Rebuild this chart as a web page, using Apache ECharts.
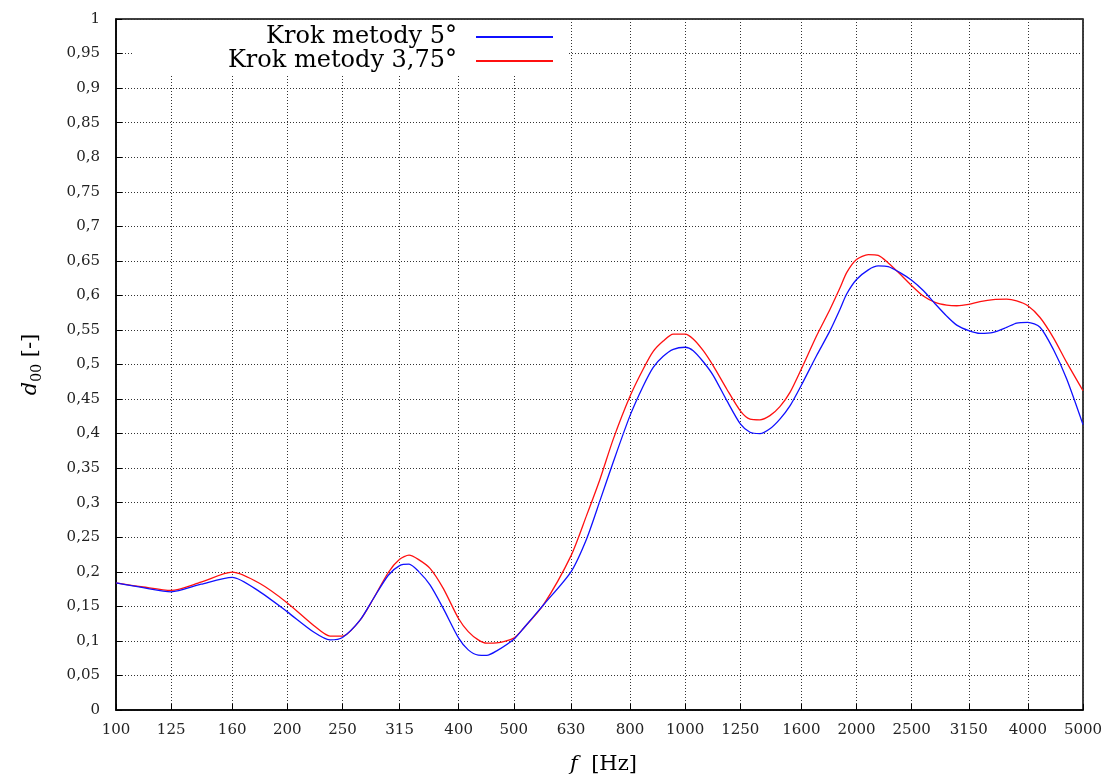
<!DOCTYPE html>
<html>
<head>
<meta charset="utf-8">
<script src="https://cdn.jsdelivr.net/npm/echarts@6/dist/echarts.min.js"></script>
<style>
html,body{margin:0;padding:0;background:#fff;}
#chart{width:1106px;height:780px;}
</style>
</head>
<body>
<div id="chart"></div>
<script>
// Frequencies [Hz] at which the curves were read
var freqs = [100,111.6,125,141,160,179,200,222.8,237.7,250,268.4,283.2,300.9,315,327.2,339.7,356.2,375.8,400,415.8,433,448,466.5,500,521,563.5,630,671.4,708.5,747.6,800,844,878.8,915,953,1000,1033,1076,1120.5,1183,1250,1300,1353,1409,1467,1529,1600,1702,1797,1871,1922,2000,2098,2184,2274,2385,2500,2620,2748,2881,3000,3150,3296,3478,3671,3823,4000,4202,4434,4681,5000];
// "Krok metody 5°"
var step5 = [0.184,0.177,0.171,0.182,0.192,0.171,0.142,0.1125,0.1015,0.105,0.130,0.161,0.195,0.209,0.211,0.201,0.181,0.147,0.104,0.087,0.0794,0.079,0.0856,0.1025,0.119,0.152,0.200,0.248,0.303,0.359,0.426,0.469,0.496,0.512,0.522,0.525,0.520,0.504,0.484,0.448,0.414,0.402,0.400,0.407,0.421,0.4405,0.470,0.513,0.549,0.580,0.602,0.623,0.637,0.6426,0.6417,0.633,0.622,0.607,0.588,0.570,0.557,0.549,0.545,0.5465,0.5537,0.560,0.561,0.554,0.522,0.479,0.413];
// "Krok metody 3,75°"
var step375 = [0.184,0.178,0.173,0.185,0.1995,0.183,0.155,0.122,0.107,0.107,0.130,0.161,0.199,0.218,0.224,0.218,0.205,0.176,0.132,0.1135,0.1015,0.0967,0.097,0.104,0.119,0.152,0.223,0.282,0.334,0.392,0.454,0.4935,0.519,0.534,0.544,0.544,0.537,0.520,0.498,0.4646,0.433,0.421,0.420,0.426,0.439,0.460,0.4935,0.5416,0.580,0.611,0.633,0.652,0.659,0.658,0.647,0.631,0.614,0.599,0.590,0.586,0.585,0.587,0.591,0.594,0.5945,0.592,0.585,0.568,0.539,0.503,0.462];
// tick labels
var xTicks = [100,125,160,200,250,315,400,500,630,800,1000,1250,1600,2000,2500,3150,4000,5000];
var seriesNames = ['Krok metody 5°','Krok metody 3,75°'];

var FONT = 'DejaVu Serif';
var chart = echarts.init(document.getElementById('chart'), null, {renderer:'canvas'});
function pairs(vals){ return freqs.map(function(f,i){ return [f, vals[i]]; }); }
var gridLine = {show:true, lineStyle:{color:'#333', width:1, type:[1,2]}};

chart.setOption({
  animation:false,
  backgroundColor:'#fff',
  grid:{left:116, right:23, top:19, bottom:68, show:true, borderColor:'#000', borderWidth:1.5, backgroundColor:'transparent'},
  legend:{
    left:132, top:21, orient:'vertical', align:'right',
    itemWidth:77, itemHeight:2, icon:'rect', itemGap:0,
    padding:[4,14,3,10], backgroundColor:'#fff',
    textStyle:{fontFamily:FONT, fontSize:24, color:'#000', lineHeight:23, width:315, align:'right', padding:[0,14,0,0]},
    data:seriesNames
  },
  xAxis:{
    type:'log', logBase:10, min:100, max:5000,
    name:'{i|f}  [Hz]', nameLocation:'middle', nameGap:44,
    nameTextStyle:{fontFamily:FONT, fontSize:21, color:'#000', padding:[0,0,0,8], rich:{i:{fontFamily:FONT, fontStyle:'italic', fontSize:21}}},
    axisLine:{show:true, lineStyle:{color:'#000', width:1.5}},
    axisTick:{show:true, inside:true, length:6, lineStyle:{color:'#000'}, customValues:xTicks},
    axisLabel:{customValues:xTicks, fontFamily:FONT, fontSize:15, color:'#222', margin:13,
      formatter:function(v){ return String(Math.round(v)); }},
    splitLine:gridLine,
    minorTick:{show:false}, minorSplitLine:{show:false}
  },
  yAxis:{
    type:'value', min:0, max:1, interval:0.05,
    name:'{i|d}{s|00} [-]', nameLocation:'middle', nameGap:72, nameRotate:90,
    nameTextStyle:{fontFamily:FONT, fontSize:21, color:'#000',
      rich:{i:{fontFamily:FONT, fontStyle:'italic', fontSize:21}, s:{fontFamily:FONT, fontSize:14, padding:[12,0,0,0]}}},
    axisLine:{show:true, lineStyle:{color:'#000', width:1.5}},
    axisTick:{show:true, inside:true, length:6, lineStyle:{color:'#000'}},
    axisLabel:{fontFamily:FONT, fontSize:15, color:'#222', margin:16,
      formatter:function(v){ return String(parseFloat(v.toFixed(2))).replace('.', ','); }},
    splitLine:gridLine
  },
  series:[
    {name:seriesNames[0], type:'line', data:pairs(step5), showSymbol:false, smooth:0.25,
     lineStyle:{color:'#1010ff', width:1.3}, itemStyle:{color:'#1010ff'}, z:3},
    {name:seriesNames[1], type:'line', data:pairs(step375), showSymbol:false, smooth:0.25,
     lineStyle:{color:'#ff1010', width:1.3}, itemStyle:{color:'#ff1010'}, z:2}
  ]
});
</script>
</body>
</html>
